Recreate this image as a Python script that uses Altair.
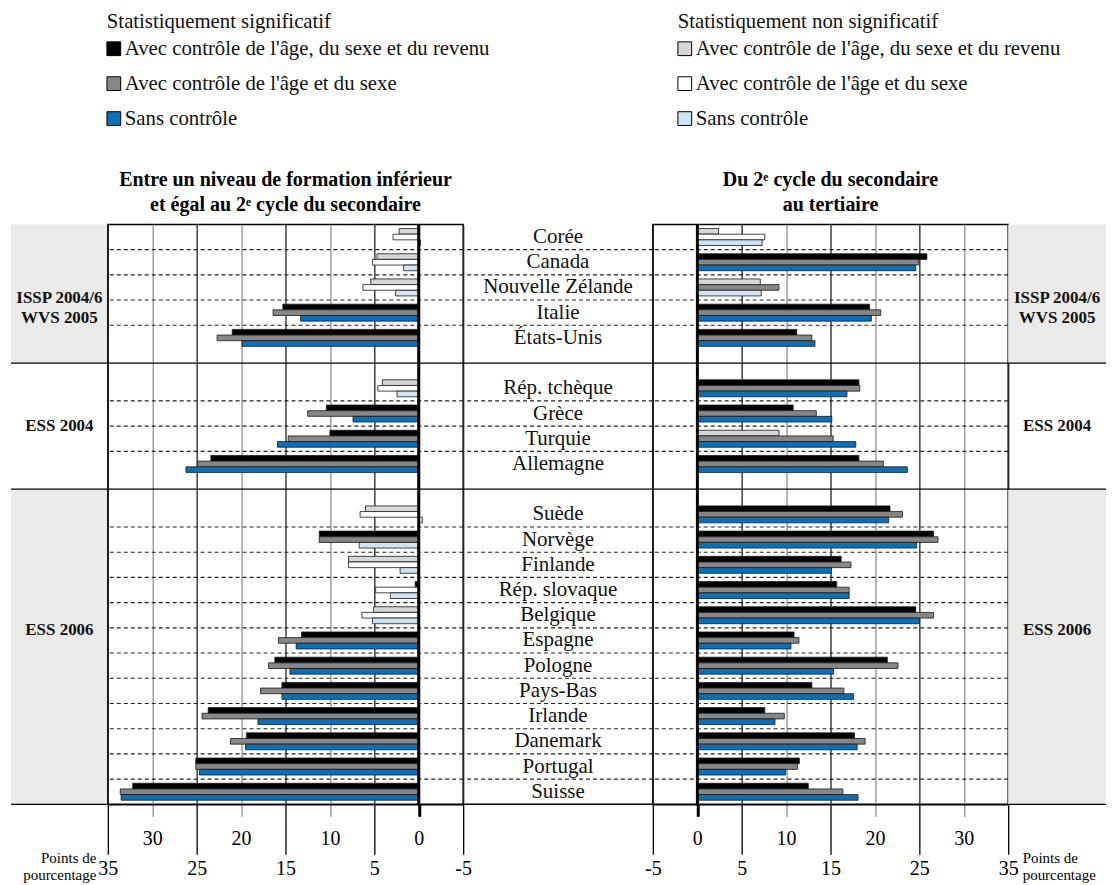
import altair as alt
import pandas as pd

SERIF = "Liberation Serif"
GREY_BAND = "#eaebe9"

# ---------------- categories ----------------
issp = ["Corée", "Canada", "Nouvelle Zélande", "Italie", "États-Unis"]
ess04 = ["Rép. tchèque", "Grèce", "Turquie", "Allemagne"]
ess06 = ["Suède", "Norvège", "Finlande", "Rép. slovaque", "Belgique", "Espagne",
         "Pologne", "Pays-Bas", "Irlande", "Danemark", "Portugal", "Suisse"]
groups = [issp, ess04, ess06]
group_names = ["ISSP 2004/6\nWVS 2005", "ESS 2004", "ESS 2006"]
group_label_rows = [2.9, 8.0, 16.1]
gap_names = ["gap1", "gap2"]
countries = issp + ess04 + ess06

controls = ["income", "agesex", "none"]
legend_labels = ["Avec contrôle de l'âge, du sexe et du revenu",
                 "Avec contrôle de l'âge et du sexe",
                 "Sans contrôle"]
legend_headings = ["Statistiquement significatif", "Statistiquement non significatif"]

left_title = ["Entre un niveau de formation inférieur", "et égal au 2ᵉ cycle du secondaire"]
right_title = ["Du 2ᵉ cycle du secondaire", "au tertiaire"]
axis_title = ["Points de", "pourcentage"]
tick_values = [35, 30, 25, 20, 15, 10, 5, 0, -5]

# ---------------- values (percentage points) ----------------
left_income = [2.2, 4.7, 5.4, 15.3, 21.0, 4.1, 10.4, 10.0, 23.4,
               6.0, 11.2, 7.9, 0.4, 5.1, 13.2, 16.2, 15.4, 23.7, 19.4, 25.1, 32.2]
left_income_sig = [0, 0, 0, 1, 1, 0, 1, 1, 1,
                   0, 1, 0, 1, 0, 1, 1, 1, 1, 1, 1, 1]
left_agesex = [2.9, 5.2, 6.3, 16.4, 22.7, 4.6, 12.5, 14.7, 24.9,
               6.6, 11.2, 7.9, 4.85, 6.4, 15.8, 16.9, 17.8, 24.4, 21.2, 25.1, 33.6]
left_agesex_sig = [0, 0, 0, 1, 1, 0, 1, 1, 1,
                   0, 1, 0, 0, 0, 1, 1, 1, 1, 1, 1, 1]
left_none = [-0.2, 1.7, 2.6, 13.3, 19.9, 2.45, 7.4, 15.9, 26.2,
             -0.4, 6.7, 2.1, 3.2, 5.2, 13.8, 14.5, 15.4, 18.1, 19.5, 24.7, 33.5]
left_none_sig = [0, 0, 0, 1, 1, 0, 1, 1, 1,
                 0, 0, 0, 0, 0, 1, 1, 1, 1, 1, 1, 1]

right_income = [2.4, 25.85, 7.1, 19.4, 11.2, 18.2, 10.8, 9.2, 18.2,
                21.7, 26.6, 16.2, 15.7, 24.6, 10.9, 21.4, 12.9, 7.6, 17.7, 11.5, 12.5]
right_income_sig = [0, 1, 0, 1, 1, 1, 1, 0, 1,
                    1, 1, 1, 1, 1, 1, 1, 1, 1, 1, 1, 1]
right_agesex = [7.6, 24.9, 9.2, 20.65, 12.9, 18.3, 13.4, 15.3, 20.95,
                23.1, 27.1, 17.3, 17.1, 26.6, 11.45, 22.6, 16.5, 9.8, 18.9, 11.3, 16.4]
right_agesex_sig = [0, 1, 1, 1, 1, 1, 1, 1, 1,
                    1, 1, 1, 1, 1, 1, 1, 1, 1, 1, 1, 1]
right_none = [7.3, 24.6, 7.2, 19.6, 13.25, 16.85, 15.15, 17.85, 23.65,
              21.55, 24.7, 15.1, 17.1, 25.0, 10.55, 15.35, 17.6, 8.75, 18.0, 9.95, 18.1]
right_none_sig = [0, 1, 0, 1, 1, 1, 1, 1, 1,
                  1, 1, 1, 1, 1, 1, 1, 1, 1, 1, 1, 1]

# ---------------- derived tables ----------------
row_domain = issp + [gap_names[0]] + ess04 + [gap_names[1]] + ess06
n_rows = len(row_domain)

cat_domain = ["Sincome", "Sagesex", "Snone", "Nincome", "Nagesex", "Nnone"]
cat_range = ["#000000", "#878787", "#0a71b8", "#d6d6d6", "#ffffff", "#cfe4f2"]
fill_scale = alt.Scale(domain=cat_domain, range=cat_range)


def panel_frame(series):
    rec = []
    for ctrl, vals, sigs in series:
        for c, v, s in zip(countries, vals, sigs):
            rec.append({"country": c, "control": ctrl, "value": v,
                        "cat": ("S" if s else "N") + ctrl})
    return pd.DataFrame(rec)


left_df = panel_frame([("income", left_income, left_income_sig),
                       ("agesex", left_agesex, left_agesex_sig),
                       ("none", left_none, left_none_sig)])
right_df = panel_frame([("income", right_income, right_income_sig),
                        ("agesex", right_agesex, right_agesex_sig),
                        ("none", right_none, right_none_sig)])

sep_df = pd.DataFrame({"country": [c for g in groups for c in g[1:]]})
gap_df = pd.DataFrame({"country": gap_names})
last_df = pd.DataFrame({"country": [ess06[-1]]})
label_df = pd.DataFrame({"country": countries})

# group boundaries in row units
bounds = [0.0]
pos = 0.0
for i, g in enumerate(groups):
    pos += len(g) + (0.5 if i > 0 else 0.0) + (0.5 if i < len(groups) - 1 else 0.0)
    bounds.append(pos)
shade_df = pd.DataFrame({"start": [bounds[0], bounds[2]], "end": [bounds[1], bounds[3]]})
line_df = pd.DataFrame({"pos": bounds[1:]})
glabel_df = pd.DataFrame({"row": group_label_rows, "name": group_names})

H = 581
PW = 356
CW = 190
LBW = 97
RBW = 98

ys_band = alt.Scale(domain=row_domain, paddingInner=0, paddingOuter=0)
no_view = alt.ViewBackground(stroke="transparent", strokeWidth=0)


def x_axis(title_x, title_align):
    return alt.Axis(
        values=tick_values, grid=True,
        gridColor={"condition": {"test": "datum.value % 10 === 0", "value": "#8f8f8f"}, "value": "#222222"},
        gridWidth=1.3,
        domainColor="black", domainWidth=1.5,
        tickSize={"condition": {"test": "datum.value % 10 === 0", "value": 12}, "value": 50},
        tickColor={"condition": {"test": "datum.value % 10 === 0 && datum.value !== 0", "value": "#8f8f8f"}, "value": "black"},
        tickWidth={"condition": {"test": "datum.value === 0", "value": 3}, "value": 1.3},
        labelPadding={"condition": {"test": "datum.value % 10 === 0", "value": 12}, "value": 4},
        labelExpr="'' + datum.value",
        labelFont=SERIF, labelFontSize=20, labelColor="black",
        labelFlush=False, labelOverlap=False,
        title=axis_title, titleFont=SERIF, titleFontSize=15, titleFontWeight="normal",
        titleColor="black", titleX=title_x, titleY=46, titleAlign=title_align,
        titleBaseline="top", titleLineHeight=17, titleAngle=0,
    )


def panel(df, reverse, title, title_x, title_align):
    xs = alt.Scale(domain=[-5, 35], reverse=reverse, nice=False, zero=False)
    dashed = alt.Chart(sep_df).mark_rule(strokeDash=[4, 3], color="#222222", strokeWidth=1.1).encode(
        y=alt.Y("country:N", bandPosition=0, scale=ys_band, axis=None))
    solid = alt.Chart(gap_df).mark_rule(color="black", strokeWidth=1.4).encode(
        y=alt.Y("country:N", scale=ys_band, axis=None))
    bars = alt.Chart(df).mark_bar(stroke="#1a1a1a", strokeWidth=0.8).encode(
        x=alt.X("value:Q", scale=xs, axis=x_axis(title_x, title_align)),
        y=alt.Y("country:N", scale=ys_band, axis=None),
        yOffset=alt.YOffset("control:N", scale=alt.Scale(domain=controls, paddingInner=0, paddingOuter=0.73)),
        fill=alt.Fill("cat:N", scale=fill_scale, legend=None),
    )
    zero = alt.Chart(gap_df).mark_rule(color="black", strokeWidth=2.6).encode(x=alt.datum(0))
    return alt.layer(dashed, solid, bars, zero).properties(
        width=PW, height=H,
        title=alt.TitleParams(text=title, font=SERIF, fontSize=20, fontWeight="bold", color="black",
                              anchor="middle", offset=8, lineHeight=25),
        view=alt.ViewBackground(stroke="black", strokeWidth=1.5),
    )


def band(width):
    ys = alt.Scale(domain=[0, n_rows], reverse=True, nice=False, zero=False)
    rects = alt.Chart(shade_df).mark_rect(color=GREY_BAND).encode(
        y=alt.Y("start:Q", scale=ys, axis=None), y2="end:Q",
        x=alt.value(0), x2=alt.value(width))
    lines = alt.Chart(line_df).mark_rule(color="black", strokeWidth=1.4).encode(
        y=alt.Y("pos:Q", scale=ys, axis=None))
    labels = alt.Chart(glabel_df).mark_text(
        font=SERIF, fontSize=17, fontWeight="bold", lineBreak="\n", lineHeight=21,
        align="center", baseline="middle", color="#111111").encode(
        y=alt.Y("row:Q", scale=ys, axis=None), x=alt.value(width / 2), text="name:N")
    return alt.layer(rects, lines, labels).properties(width=width, height=H, view=no_view)


def center():
    dashed = alt.Chart(sep_df).mark_rule(strokeDash=[4, 3], color="#222222", strokeWidth=1.1).encode(
        y=alt.Y("country:N", bandPosition=0, scale=ys_band, axis=None))
    solid = alt.Chart(gap_df).mark_rule(color="black", strokeWidth=1.4).encode(
        y=alt.Y("country:N", scale=ys_band, axis=None))
    bottom = alt.Chart(last_df).mark_rule(color="black", strokeWidth=1.5).encode(
        y=alt.Y("country:N", bandPosition=1, scale=ys_band, axis=None))
    text = alt.Chart(label_df).mark_text(font=SERIF, fontSize=21, color="#111111",
                                         align="center", baseline="middle").encode(
        y=alt.Y("country:N", scale=ys_band, axis=None), x=alt.value(CW / 2), text="country:N")
    return alt.layer(dashed, solid, bottom, text).properties(width=CW, height=H, view=no_view)


# ---------------- legend ----------------
leg_items = pd.DataFrame({
    "col": [0, 0, 0, 1, 1, 1],
    "row": [0, 1, 2, 0, 1, 2],
    "label": legend_labels * 2,
    "cat": cat_domain,
})
leg_heads = pd.DataFrame({"col": [0, 1], "label": legend_headings})
xcol = alt.X("col:O", scale=alt.Scale(type="point", domain=[0, 1], range=[103, 675], padding=0), axis=None)
yrow = alt.Y("row:O", scale=alt.Scale(type="point", domain=[0, 1, 2], range=[38, 108], padding=0), axis=None)
squares = alt.Chart(leg_items).mark_square(size=190, stroke="black", strokeWidth=1, opacity=1).encode(
    x=xcol, y=yrow, fill=alt.Fill("cat:N", scale=fill_scale, legend=None))
ltexts = alt.Chart(leg_items).mark_text(align="left", baseline="middle", dx=11, font=SERIF,
                                        fontSize=20.8, color="#111111").encode(x=xcol, y=yrow, text="label:N")
lheads = alt.Chart(leg_heads).mark_text(align="left", baseline="middle", dx=-7, font=SERIF,
                                        fontSize=20.8, color="#111111").encode(x=xcol, y=alt.value(11), text="label:N")
legend_chart = alt.layer(squares, ltexts, lheads).properties(
    width=LBW + PW + CW + PW + RBW, height=126, view=no_view)

body = alt.hconcat(
    band(LBW),
    panel(left_df, True, left_title, -12, "right"),
    center(),
    panel(right_df, False, right_title, PW + 14, "left"),
    band(RBW),
    spacing=0, bounds="flush",
)

chart = alt.vconcat(legend_chart, body, spacing=88, bounds="flush").properties(
    padding={"left": 2, "top": 2, "right": 2, "bottom": 0}
).configure_view(stroke="transparent", strokeWidth=0).configure(background="white")

chart.save("out.html", embed_options={"renderer": "svg", "actions": False})
